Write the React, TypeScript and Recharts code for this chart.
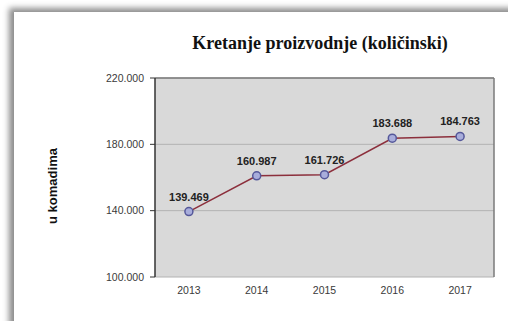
import { CartesianGrid, LabelList, Line, LineChart, ReferenceLine, XAxis, YAxis } from "recharts";

const years = [2013, 2014, 2015, 2016, 2017];
const output = [139469, 160987, 161726, 183688, 184763];
const yTicks = [100000, 140000, 180000, 220000];
const yearEdges = [2012.5, 2013.5, 2014.5, 2015.5, 2016.5, 2017.5];

const data = years.map((year, i) => ({ year, value: output[i] }));

const fmt = (v: number) => v.toLocaleString("de-DE");
const sans = "'Liberation Sans', Arial, sans-serif";

export default function App() {
  return (
    <div style={{ position: "absolute", left: 0, top: 0, width: 508, height: 321, background: "#fff", overflow: "hidden" }}>
      <div
        style={{
          position: "absolute",
          left: 14,
          top: 12,
          right: -20,
          bottom: -20,
          background: "#fff",
          boxShadow: "-5px -4px 6px rgba(0,0,0,0.45)",
        }}
      />
      <div
        style={{
          position: "absolute",
          left: 150,
          width: 340,
          top: 33,
          textAlign: "center",
          fontFamily: "'Liberation Serif', 'Times New Roman', serif",
          fontWeight: "bold",
          fontSize: 18,
          color: "#111",
        }}
      >
        Kretanje proizvodnje (količinski)
      </div>
      <LineChart
        width={508}
        height={321}
        data={data}
        margin={{ top: 78, right: 14, bottom: 14, left: 0 }}
        style={{ position: "absolute", left: 0, top: 0 }}
      >
        <CartesianGrid fill="#d9d9d9" stroke="#b2b2b2" vertical={false} />
        <XAxis
          xAxisId="edges"
          type="number"
          dataKey="year"
          domain={[2012.5, 2017.5]}
          ticks={yearEdges}
          tick={false}
          tickSize={5}
          height={0}
          stroke="#333"
          axisLine={{ stroke: "#333", strokeWidth: 1.5 }}
          tickLine={{ stroke: "#333" }}
        />
        <XAxis
          type="number"
          dataKey="year"
          domain={[2012.5, 2017.5]}
          ticks={years}
          axisLine={false}
          tickLine={false}
          tickSize={0}
          tickMargin={10}
          height={30}
          tick={{ fontSize: 10.5, fill: "#3a3a3a", fontFamily: sans }}
        />
        <YAxis
          width={155}
          domain={[100000, 220000]}
          ticks={yTicks}
          tickFormatter={fmt}
          tickSize={5}
          tickMargin={6}
          axisLine={{ stroke: "#333", strokeWidth: 1.5 }}
          tickLine={{ stroke: "#333" }}
          tick={{ fontSize: 10.5, fill: "#3a3a3a", fontFamily: sans }}
          label={{
            content: () => (
              <text
                x={57}
                y={186}
                transform="rotate(-90, 57, 186)"
                textAnchor="middle"
                fontFamily={sans}
                fontWeight="bold"
                fontSize={13}
                fill="#111"
              >
                u komadima
              </text>
            ),
          }}
        />
        <ReferenceLine y={220000} stroke="#7a7a7a" strokeWidth={1.5} />
        <ReferenceLine x={2017.5} stroke="#7a7a7a" strokeWidth={1.5} />
        <Line
          dataKey="value"
          stroke="#8c2f3c"
          strokeWidth={1.5}
          dot={{ r: 4, fill: "#a8addb", stroke: "#55589a", strokeWidth: 1.5 }}
          isAnimationActive={false}
        >
          <LabelList
            dataKey="value"
            position="top"
            offset={11}
            formatter={(v: number) => fmt(v)}
            style={{ fontSize: 11, fontWeight: "bold", fill: "#222", fontFamily: sans }}
          />
        </Line>
      </LineChart>
    </div>
  );
}
